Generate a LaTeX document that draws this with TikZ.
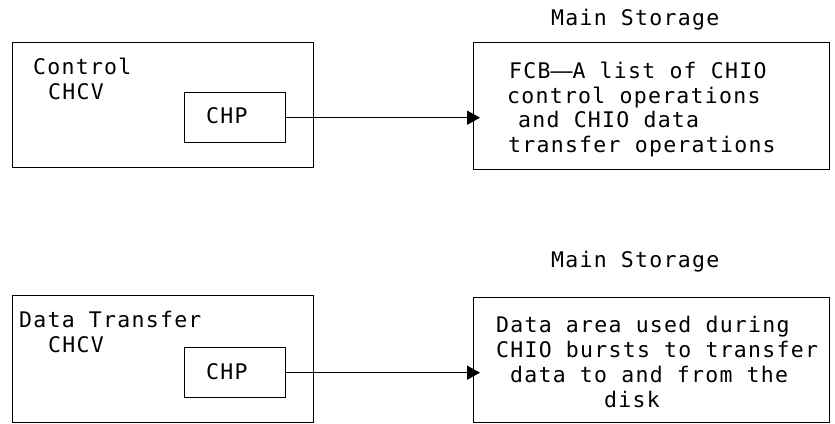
\documentclass[tikz,border=0pt]{standalone}
\usepackage{fontspec}
\setmonofont[LetterSpace=5.9]{DejaVu Sans Mono}
\usetikzlibrary{arrows.meta}
\tikzset{
  box/.style={draw, line width=1.4pt, rectangle, inner sep=0pt, anchor=north west},
  txt/.style={anchor=base west, inner sep=0pt, font=\ttfamily\fontsize{21.5}{25}\selectfont},
  link/.style={line width=1.4pt, -{Triangle[length=13pt,width=14pt]}, shorten >=-7pt}
}
\begin{document}
\begin{tikzpicture}[x=1pt,y=-1pt]
  \useasboundingbox (0,0) rectangle (835,423);

  % ---- control CHCV and its FCB ----
  \node[box, minimum width=301pt, minimum height=125pt] (ctl) at (12,42) {};
  \node[box, minimum width=101pt, minimum height=50pt] (chpA) at (184,92) {};
  \node[txt] (ctlA) at (33,74) {Control};
  \node[txt] (ctlB) at (48,99) {CHCV};
  \node[txt] (chpAt) at (206,123) {CHP};

  \node[txt] (msA) at (551,25) {Main Storage};
  \node[box, minimum width=356pt, minimum height=127pt] (fcb) at (473,42) {};
  \node[txt] (fcbA) at (509,78) {FCB\scalebox{1.7}[1]{—}A list of CHIO};
  \node[txt] (fcbB) at (507,103) {control operations};
  \node[txt] (fcbC) at (518,127) {and CHIO data};
  \node[txt] (fcbD) at (508,152) {transfer operations};

  \draw[link] (chpA.east) -- (chpA.east -| fcb.west);

  % ---- data transfer CHCV and its data area ----
  \node[box, minimum width=301pt, minimum height=127pt] (dtr) at (12,295) {};
  \node[box, minimum width=101pt, minimum height=50pt] (chpB) at (184,347) {};
  \node[txt] (dtrA) at (19,327) {Data Transfer};
  \node[txt] (dtrB) at (48,352) {CHCV};
  \node[txt] (chpBt) at (206,379) {CHP};

  \node[txt] (msB) at (551,267) {Main Storage};
  \node[box, minimum width=356pt, minimum height=125pt] (area) at (473,297) {};
  \node[txt] (areaA) at (496,332) {Data area used during};
  \node[txt] (areaB) at (496,357) {CHIO bursts to transfer};
  \node[txt] (areaC) at (510,382) {data to and from the};
  \node[txt] (areaD) at (604,407) {disk};

  \draw[link] (chpB.east) -- (chpB.east -| area.west);
\end{tikzpicture}
\end{document}
